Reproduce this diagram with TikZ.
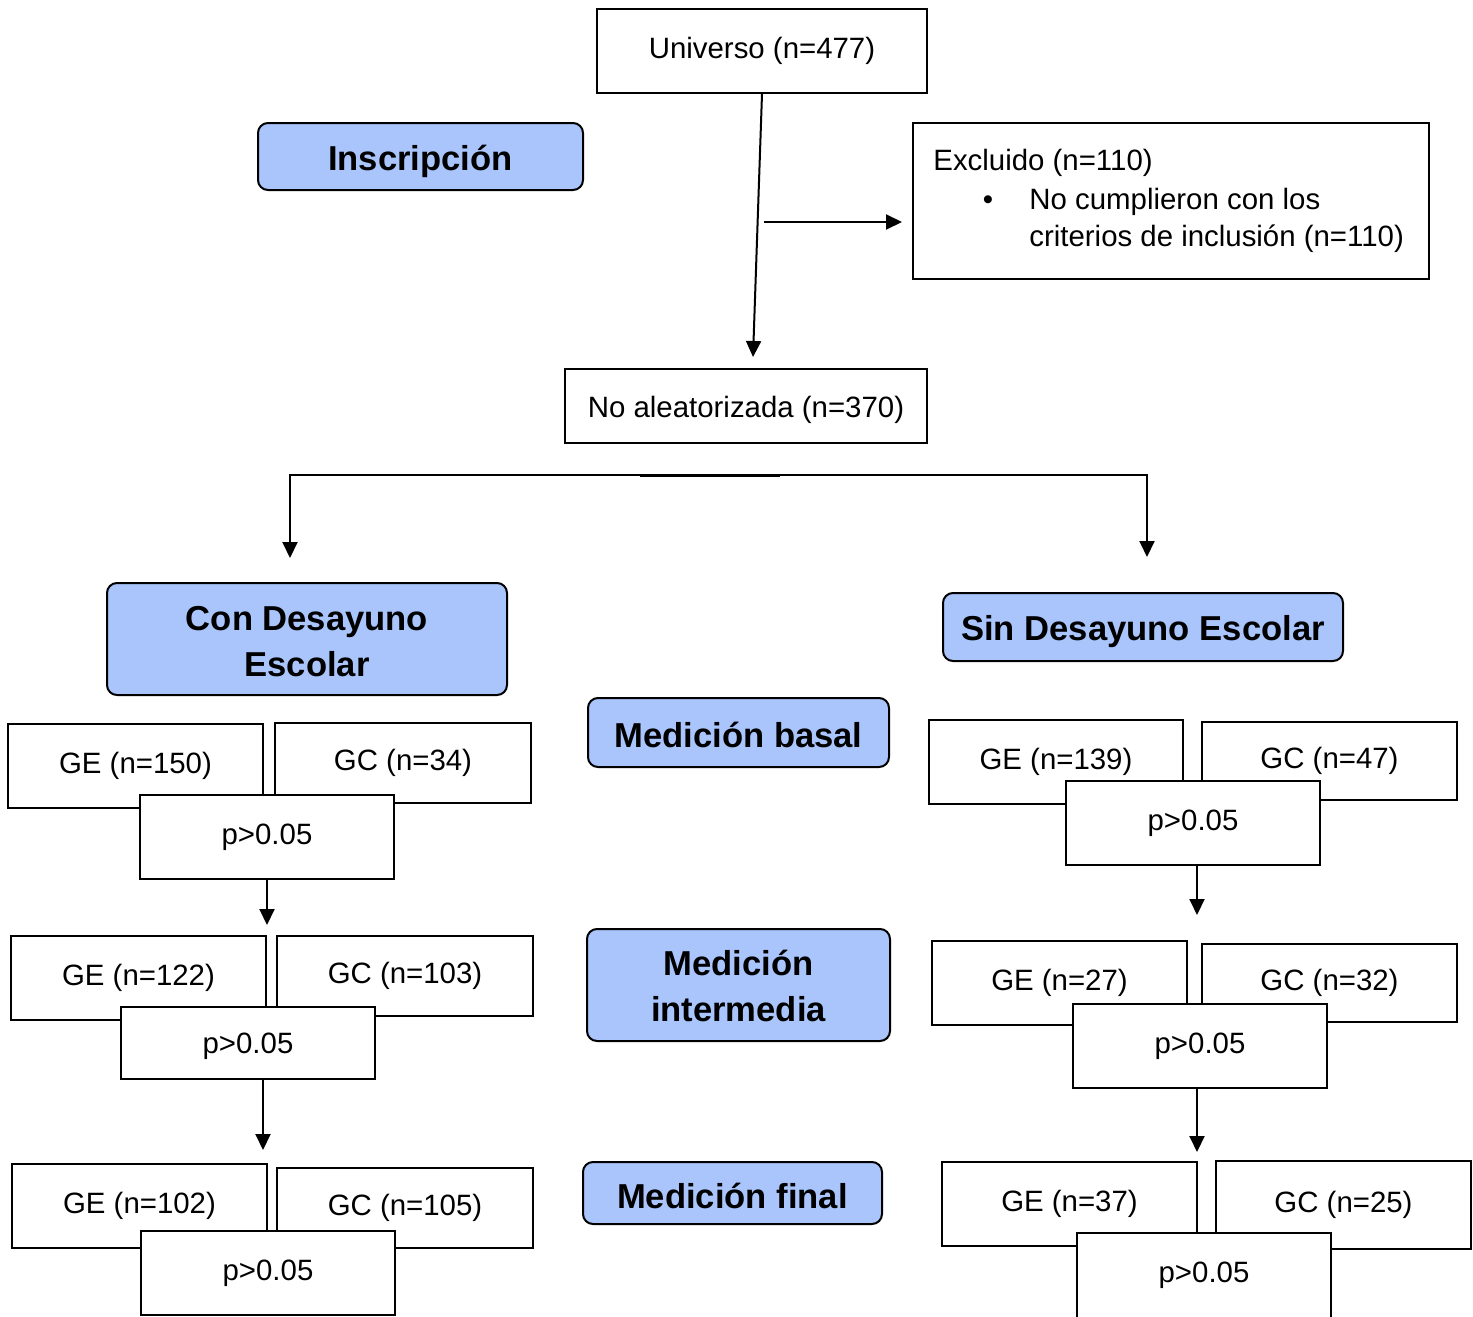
\documentclass[tikz,border=0pt]{standalone}
\usepackage{fontspec}
\setmainfont{Liberation Sans}
\usetikzlibrary{arrows.meta}
\definecolor{boxblue}{RGB}{169,197,252}
\newcommand{\dn}[2]{\raisebox{-#1pt}[\height][\depth]{#2}}
\newcommand{\twol}[3]{\raisebox{-#1pt}[\height][\depth]{\begin{tabular}{@{}c@{}}#2\\#3\end{tabular}}}
\tikzset{
  plainbox/.style={draw=black, line width=1pt, fill=white, inner sep=0pt,
    font=\fontsize{14.7}{19}\selectfont, align=center},
  bluebox/.style={draw=black, line width=1pt, fill=boxblue, rounded corners=5pt,
    inner sep=0pt, font=\fontsize{17.3}{23}\selectfont\bfseries, align=center},
  txt/.style={inner sep=0pt, font=\fontsize{14.7}{19}\selectfont},
  arr/.style={line width=1pt, -{Triangle[length=8pt,width=7.5pt]}},
  ln/.style={line width=1pt}
}
\begin{document}
\begin{tikzpicture}[x=0.5pt,y=-0.5pt]
\useasboundingbox (0,0) rectangle (1473,1317);
% top part
\node[plainbox, minimum width=165pt, minimum height=42pt] (univ) at (762,51) {\dn{0}{Universo (n=477)}};
\node[bluebox, minimum width=162.5pt, minimum height=33.5pt] (insc) at (420.5,156.5) {\dn{2.5}{Inscripción}};
\node[plainbox, minimum width=258pt, minimum height=78pt] (excl) at (1171,201) {};
\node[txt, anchor=west] (exclt) at (933,163) {Excluido (n=110)};
\node[txt, anchor=center] (bul) at (988,203) {•};
\node[txt, anchor=west] (excl1) at (1029,202) {No cumplieron con los};
\node[txt, anchor=west] (excl2) at (1029,239) {criterios de inclusión (n=110)};
\node[plainbox, minimum width=181pt, minimum height=37pt] (noal) at (746,406) {\dn{2}{No aleatorizada (n=370)}};

\coordinate (a1) at (753,357);
\coordinate (b0) at (764,222);
\coordinate (b1) at (902,222);
\draw[arr] (univ.south) -- (a1);
\draw[arr] (b0) -- (b1);

\coordinate (s0) at (290,475);
\coordinate (s1) at (1147,475);
\coordinate (sL) at (290,558);
\coordinate (sR) at (1147,557);
\coordinate (t0) at (640,476);
\coordinate (t1) at (780,476);
\draw[ln] (t0) -- (t1);
\draw[arr] (s1) -- (s0) -- (sL);
\draw[arr] (s0) -- (s1) -- (sR);

% group headers
\node[bluebox, minimum width=200pt, minimum height=56pt] (con) at (307,639) {\twol{2.5}{Con Desayuno}{Escolar}};
\node[bluebox, minimum width=200pt, minimum height=34pt] (sin) at (1143,627) {\dn{2.5}{Sin Desayuno Escolar}};
\node[bluebox, minimum width=150.5pt, minimum height=34.5pt] (mb) at (738.5,732.5) {\dn{1}{Medición basal}};
\node[bluebox, minimum width=151.5pt, minimum height=56pt] (mi) at (738.5,985) {\twol{2}{Medición}{intermedia}};
\node[bluebox, minimum width=149.5pt, minimum height=31pt] (mf) at (732.5,1193) {\dn{1.5}{Medición final}};

% left column
\node[plainbox, minimum width=127.5pt, minimum height=42pt] (geA) at (135.5,766) {GE (n=150)};
\node[plainbox, minimum width=128pt, minimum height=40pt] (gcA) at (403,763) {GC (n=34)};
\node[plainbox, minimum width=127pt, minimum height=42pt] (pA) at (267,837) {p>0.05};
\coordinate (cA) at (267,925);
\draw[arr] (pA.south) -- (cA);

\node[plainbox, minimum width=127.5pt, minimum height=42pt] (geB) at (138.5,978) {GE (n=122)};
\node[plainbox, minimum width=128pt, minimum height=40pt] (gcB) at (405,976) {GC (n=103)};
\node[plainbox, minimum width=127pt, minimum height=36pt] (pB) at (248,1043) {\dn{1.5}{p>0.05}};
\coordinate (cB) at (263,1150);
\draw[arr] (pB.south -| cB) -- (cB);

\node[plainbox, minimum width=127.5pt, minimum height=42pt] (geC) at (139.5,1206) {GE (n=102)};
\node[plainbox, minimum width=128pt, minimum height=40pt] (gcC) at (405,1208) {GC (n=105)};
\node[plainbox, minimum width=127pt, minimum height=42pt] (pC) at (268,1273) {p>0.05};

% right column
\node[plainbox, minimum width=127pt, minimum height=42pt] (geD) at (1056,762) {GE (n=139)};
\node[plainbox, minimum width=127.5pt, minimum height=39pt] (gcD) at (1329.5,761) {GC (n=47)};
\node[plainbox, minimum width=127pt, minimum height=42pt] (pD) at (1193,823) {p>0.05};
\coordinate (cD) at (1197,915);
\draw[arr] (pD.south -| cD) -- (cD);

\node[plainbox, minimum width=127.5pt, minimum height=42pt] (geE) at (1059.5,983) {GE (n=27)};
\node[plainbox, minimum width=127.5pt, minimum height=39pt] (gcE) at (1329.5,983) {GC (n=32)};
\node[plainbox, minimum width=127pt, minimum height=42pt] (pE) at (1200,1046) {p>0.05};
\coordinate (cE) at (1197,1152);
\draw[arr] (pE.south -| cE) -- (cE);

\node[plainbox, minimum width=127.5pt, minimum height=42pt] (geF) at (1069.5,1204) {GE (n=37)};
\node[plainbox, minimum width=127.5pt, minimum height=44pt] (gcF) at (1343.5,1205) {GC (n=25)};
\node[plainbox, minimum width=127pt, minimum height=42.5pt] (pF) at (1204,1275.5) {p>0.05};
\end{tikzpicture}
\end{document}
